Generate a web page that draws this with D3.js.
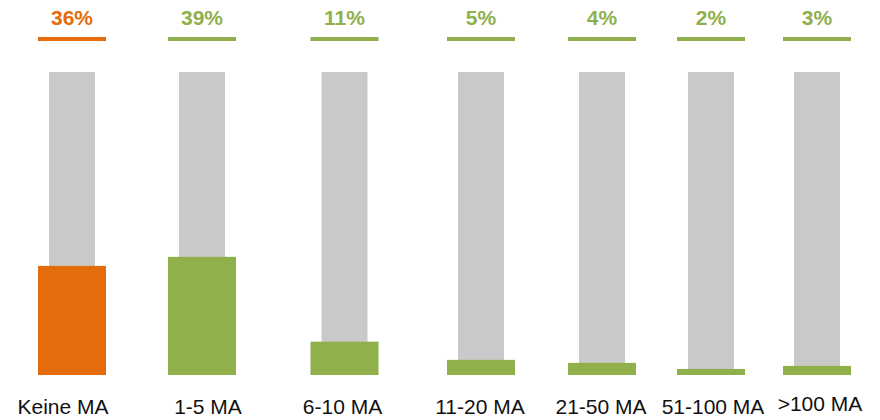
<!DOCTYPE html>
<html>
<head>
<meta charset="utf-8">
<script src="https://cdn.jsdelivr.net/npm/d3@7"></script>
<style>
  html, body { margin: 0; padding: 0; background: #fff; }
  svg { display: block; }
  text { font-family: "Liberation Sans", Arial, sans-serif; }
</style>
</head>
<body>
<svg id="chart" width="880" height="420"></svg>
<script>
// ---- data ----
const categories = ["Keine MA", "1-5 MA", "6-10 MA", "11-20 MA", "21-50 MA", "51-100 MA", ">100 MA"];
const values = [36, 39, 11, 5, 4, 2, 3];
const valueLabels = ["36%", "39%", "11%", "5%", "4%", "2%", "3%"];
const maxValue = 100;

// ---- layout ----
const width = 880, height = 420;
const centers = [72, 202, 344.5, 481, 602, 711, 817];
const labelShift = [-9, 6, -2, -1, -1, 2, 3];
const labelLift = [0, 0, 0, 0, 0, 0, 3];
const barW = 68, bgW = 46;
const orange = "#E46C0A", green = "#8FB04B", gray = "#C9C9C9";

const svg = d3.select("#chart");
const x = d3.scaleOrdinal().domain(categories).range(centers);
const y = d3.scaleLinear().domain([0, maxValue]).range([375, 72]);
const color = (d, i) => i === 0 ? orange : green;

const data = categories.map((c, i) => ({ cat: c, v: values[i], lab: valueLabels[i], i }));

// background bars (100%)
svg.append("g").selectAll("rect").data(data).join("rect")
  .attr("x", d => x(d.cat) - bgW / 2)
  .attr("width", bgW)
  .attr("y", y(maxValue))
  .attr("height", y(0) - y(maxValue))
  .attr("fill", gray);

// value bars
svg.append("g").selectAll("rect").data(data).join("rect")
  .attr("x", d => x(d.cat) - barW / 2)
  .attr("width", barW)
  .attr("y", d => y(d.v))
  .attr("height", d => y(0) - y(d.v))
  .attr("fill", d => color(d, d.i));

// top lines
svg.append("g").selectAll("rect").data(data).join("rect")
  .attr("x", d => x(d.cat) - barW / 2)
  .attr("width", barW)
  .attr("y", 37)
  .attr("height", 4)
  .attr("fill", d => color(d, d.i));

// value labels
svg.append("g").selectAll("text").data(data).join("text")
  .attr("x", d => x(d.cat))
  .attr("y", 25)
  .attr("text-anchor", "middle")
  .attr("font-size", 21)
  .attr("font-weight", "bold")
  .attr("fill", d => color(d, d.i))
  .text(d => d.lab);

// category labels
svg.append("g").selectAll("text").data(data).join("text")
  .attr("x", d => x(d.cat) + labelShift[d.i])
  .attr("y", d => 414 - labelLift[d.i])
  .attr("text-anchor", "middle")
  .attr("font-size", 21)
  .attr("fill", "#111")
  .text(d => d.cat);
</script>
</body>
</html>
